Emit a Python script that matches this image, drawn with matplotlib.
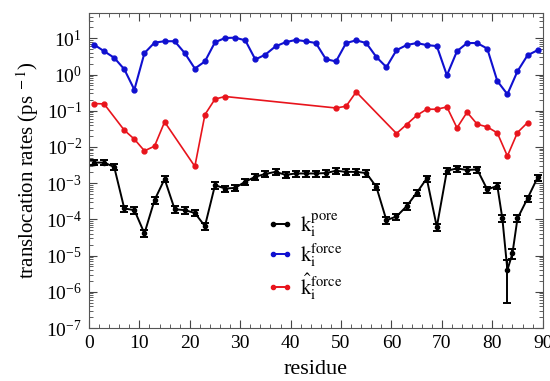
import numpy as np
import matplotlib
matplotlib.use("Agg")
import matplotlib.pyplot as plt
from matplotlib.lines import Line2D
from matplotlib.ticker import MultipleLocator, LogLocator, NullFormatter

plt.rcParams['font.family'] = ['Liberation Serif', 'DejaVu Serif']
plt.rcParams['mathtext.fontset'] = 'stix'

# residues (sampled every second residue, a few extra near the end for k_pore)
res_pore = [1, 3, 5, 7, 9, 11, 13, 15, 17, 19, 21, 23, 25, 27, 29, 31, 33, 35, 37, 39,
            41, 43, 45, 47, 49, 51, 53, 55, 57, 59, 61, 63, 65, 67, 69, 71, 73, 75, 77, 79,
            81, 82, 83, 84, 85, 87, 89]
k_pore = [3.7e-3, 3.7e-3, 2.8e-3, 2.0e-4, 1.8e-4, 4.1e-5, 3.4e-4, 1.3e-3, 1.9e-4, 1.8e-4,
          1.5e-4, 6.5e-5, 8.8e-4, 7.1e-4, 7.4e-4, 1.1e-3, 1.5e-3, 1.8e-3, 2.05e-3, 1.7e-3,
          1.85e-3, 1.85e-3, 1.85e-3, 1.9e-3, 2.2e-3, 2.05e-3, 2.05e-3, 1.9e-3, 7.9e-4, 9.5e-5,
          1.2e-4, 2.3e-4, 5.4e-4, 1.35e-3, 6.2e-5, 2.2e-3, 2.55e-3, 2.3e-3, 2.4e-3, 6.7e-4,
          8.4e-4, 1.06e-4, 4.0e-6, 1.15e-5, 1.06e-4, 3.8e-4, 1.44e-3]
k_pore_err = [6e-4, 6e-4, 5e-4, 4e-5, 3.5e-5, 9e-6, 7e-5, 2.5e-4, 4e-5, 3.5e-5,
              3e-5, 1.3e-5, 1.8e-4, 1.4e-4, 1.5e-4, 2.2e-4, 3e-4, 3.5e-4, 4e-4, 3.4e-4,
              3.7e-4, 3.7e-4, 3.7e-4, 3.8e-4, 4.4e-4, 4e-4, 4e-4, 3.8e-4, 1.6e-4, 1.9e-5,
              2.4e-5, 4.6e-5, 1.1e-4, 2.7e-4, 1.3e-5, 4.4e-4, 5e-4, 4.6e-4, 4.8e-4, 1.3e-4,
              1.7e-4, 2.2e-5, 3.5e-6, 3.3e-6, 2.2e-5, 7.6e-5, 2.9e-4]

res_force = [1, 3, 5, 7, 9, 11, 13, 15, 17, 19, 21, 23, 25, 27, 29, 31, 33, 35, 37, 39,
             41, 43, 45, 47, 49, 51, 53, 55, 57, 59, 61, 63, 65, 67, 69, 71, 73, 75, 77, 79,
             81, 83, 85, 87, 89]
k_force = [6.7, 4.4, 2.9, 1.4, 0.38, 3.9, 7.6, 8.3, 8.3, 3.9,
           1.46, 2.3, 7.8, 10.2, 10.4, 8.8, 2.6, 3.55, 6.0, 7.8,
           9.0, 8.3, 7.4, 2.65, 2.3, 7.4, 8.8, 7.4, 3.05, 1.6,
           4.7, 6.5, 7.4, 6.5, 6.1, 0.95, 4.4, 7.4, 7.4, 5.2,
           0.66, 0.285, 1.23, 3.4, 4.7]

res_hat = [1, 3, 7, 9, 11, 13, 15, 21, 23, 25, 27, 49, 51, 53, 61, 63, 65, 67, 69,
           71, 73, 75, 77, 79, 81, 83, 85, 87]
k_hat = [0.158, 0.154, 0.029, 0.0164, 0.0078, 0.0105, 0.049, 0.0029, 0.078, 0.21,
         0.247, 0.119, 0.133, 0.33, 0.0235, 0.0416, 0.074, 0.11, 0.11, 0.127,
         0.0336, 0.091, 0.0425, 0.0357, 0.0244, 0.0056, 0.025, 0.047]

labels = [r'$\mathrm{k}_\mathrm{i}^\mathrm{pore}$',
          r'$\mathrm{k}_\mathrm{i}^\mathrm{force}$',
          r'$\hat{\mathrm{k}}_\mathrm{i}^\mathrm{force}$']
colors = ['black', '#1010d0', '#e8141c']

fig = plt.figure(figsize=(5.5, 3.81), dpi=100)
ax = fig.add_axes([0.1618, 0.1391, 0.8249, 0.8268])

ax.errorbar(res_pore, k_pore, yerr=k_pore_err, color=colors[0], marker='o', ms=3,
            lw=1.4, elinewidth=1.4, capsize=3, capthick=1.4)
ax.plot(res_force, k_force, color=colors[1], marker='o', ms=3.5, lw=1.5)
ax.plot(res_hat, k_hat, color=colors[2], marker='o', ms=3.5, lw=1.2)

ax.set_yscale('log')
ax.set_xlim(0, 90)
ax.set_ylim(1e-7, 50)
ax.xaxis.set_major_locator(MultipleLocator(10))
ax.xaxis.set_minor_locator(MultipleLocator(2))
ax.yaxis.set_major_locator(LogLocator(base=10, numticks=20))
ax.yaxis.set_minor_locator(LogLocator(base=10, subs=np.arange(2, 10), numticks=20))
ax.yaxis.set_minor_formatter(NullFormatter())
ax.tick_params(which='both', direction='in', top=True, right=True, color='#444444')
ax.tick_params(which='major', length=6, labelsize=14, pad=5)
ax.tick_params(which='minor', length=3)
for s in ax.spines.values():
    s.set_color('#555555')

ax.set_xlabel('residue', fontsize=16, labelpad=6)
ax.set_ylabel(r'translocation rates (ps$^{\ -1}$)', fontsize=15)

handles = [Line2D([], [], color=c, marker='o', ms=3, lw=1.4) for c in colors]
ax.legend(handles, labels, loc='upper left', bbox_to_anchor=(0.35, 0.43),
          frameon=False, fontsize=15, numpoints=2, handlelength=1.3,
          labelspacing=0.12, handletextpad=0.3)

fig.savefig('out.png', dpi=100)
